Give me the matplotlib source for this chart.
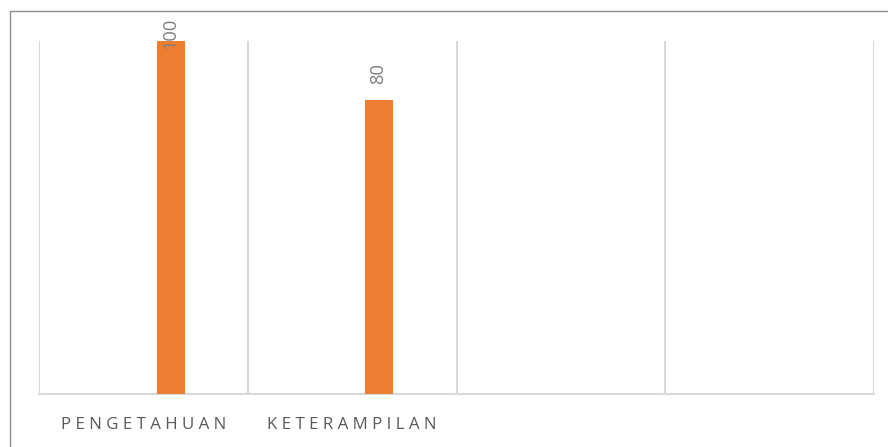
import matplotlib
matplotlib.use('Agg')
import matplotlib.pyplot as plt
from matplotlib.patches import Rectangle

# data
categories = ['PENGETAHUAN', 'KETERAMPILAN', '', '']
values = [100, 80, None, None]
y_min, y_max = -20, 100

plt.rcParams['font.family'] = ['Open Sans', 'DejaVu Sans']

fig = plt.figure(figsize=(8.88, 4.47), dpi=100)
ax = fig.add_axes([39.3 / 888, 1 - 393.7 / 447, (873.7 - 39.3) / 888, (393.7 - 41) / 447])

# outer frame of the chart
fig.patches.append(Rectangle((10 / 888, -0.1), 1.2, 1 - 11 / 447 + 0.1, transform=fig.transFigure,
                             fill=False, edgecolor='#8c8c8c', linewidth=1.0))

bar_color = '#ED7D31'
offset = 0.13
width = 0.135
xs = list(range(len(categories)))
for i, v in zip(xs, values):
    if v is None:
        continue
    ax.bar(i + offset, v - y_min, bottom=y_min, width=width, color=bar_color, zorder=3)
    # label pushed inside when it would leave the plot
    dy = -6 if v >= y_max else 11.5
    ax.annotate(str(v), (i + offset, v), xytext=(-0.5, dy), textcoords='offset points',
                rotation=90, ha='center', va='bottom', fontsize=13.2, color='#7f7f7f')

ax.set_xlim(-0.5, len(categories) - 0.5)
ax.set_ylim(y_min, y_max)
ax.set_xticks(xs)
# spaced capitals like the original
ax.set_xticklabels([' '.join(c) for c in categories], fontsize=12.2, color='#595959')
ax.tick_params(axis='x', length=0, pad=17)
ax.set_yticks([])
ax.set_xticks([x - 0.5 for x in range(len(categories) + 1)], minor=True)
ax.tick_params(axis='x', which='minor', length=0)
ax.grid(True, which='minor', axis='x', color='#d9d9d9', linewidth=1.5, zorder=0)
for s in ['top', 'right', 'left']:
    ax.spines[s].set_visible(False)
ax.spines['bottom'].set_color('#d9d9d9')
ax.spines['bottom'].set_linewidth(1.5)

fig.savefig('out.png', dpi=100)
